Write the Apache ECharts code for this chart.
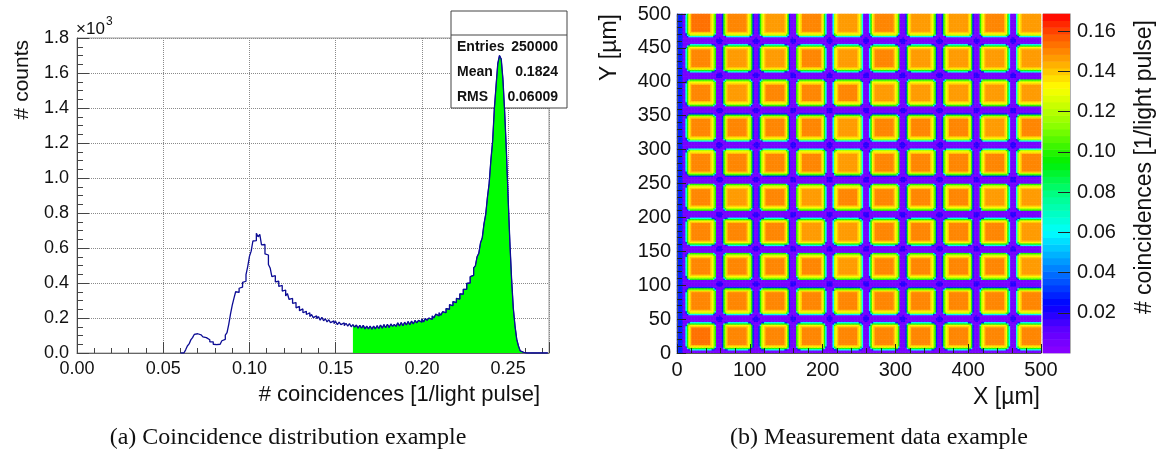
<!DOCTYPE html>
<html>
<head>
<meta charset="utf-8">
<script src="https://cdn.jsdelivr.net/npm/echarts@6/dist/echarts.min.js"></script>
<style>
  html, body { margin: 0; padding: 0; background: #ffffff; }
  #chart { width: 1165px; height: 450px; }
</style>
</head>
<body>
<div id="chart"></div>
<script>
// ---------- (a) coincidence distribution ----------
// histogram bins: left edge of first bin and bin width (1/light pulse)
const binStart = 0.060;
const binWidth = 0.001;
// entries per bin, from 0.060 upward
const counts = [
  0, 0, 6, 18, 40, 52, 75, 88, 106, 110,
  120, 104, 102, 92, 88, 78, 76, 64, 64, 50,
  48, 42, 50, 54, 70, 78, 102, 116, 164, 222,
  272, 312, 350, 346, 370, 376, 404, 410, 448, 494,
  552, 582, 640, 642, 684, 664, 678, 618, 620, 566,
  560, 506, 486, 436, 442, 406, 410, 380, 386, 354,
  360, 326, 340, 306, 312, 284, 288, 258, 266, 242,
  252, 230, 238, 220, 230, 208, 220, 202, 212, 196,
  208, 188, 204, 184, 196, 178, 190, 174, 184, 168,
  180, 162, 176, 162, 172, 156, 170, 154, 168, 150,
  162, 148, 160, 142, 158, 142, 158, 138, 154, 138,
  154, 136, 154, 138, 156, 140, 160, 142, 162, 144,
  164, 146, 166, 152, 164, 152, 172, 154, 174, 156,
  176, 160, 180, 162, 182, 166, 186, 172, 186, 176,
  194, 178, 198, 186, 200, 192, 212, 200, 222, 212,
  230, 216, 236, 230, 254, 250, 276, 270, 294, 288,
  312, 308, 338, 336, 364, 364, 398, 400, 436, 444,
  486, 498, 550, 570, 630, 658, 738, 792, 890, 970,
  1102, 1208, 1394, 1526, 1654, 1700, 1680, 1562, 1376, 1152,
  884, 636, 424, 256, 154, 78, 40, 12, 4, 0,
  0, 0, 0, 0, 0, 0, 0, 0, 0, 0, 0, 0, 0
];
const fillFrom = 0.160;         // shaded selection starts here
const histXMax = 0.2737;
const histYMax = 1800;
const statsRows = [
  ['Entries', '250000'],
  ['Mean', '0.1824'],
  ['RMS', '0.06009']
];

// ---------- (b) measurement map ----------
const mapSize = 500;            // µm
const cellSize = 2;             // µm per map bin
const padLeft = [13, 63.4, 113.8, 164.2, 214.6, 265, 315.4, 365.8, 416.2, 466.6];
const padBottom = [5, 56.5, 108, 159, 210, 261.5, 312.5, 364, 415, 466.5];
const padWidth = 41, padHeight = 40, padCorner = 6;
// plateau level of each pad, rows listed from top to bottom
const padLevel = [
  [0.153, 0.149, 0.148, 0.149, 0.148, 0.149, 0.148, 0.148, 0.149, 0.148],
  [0.150, 0.148, 0.148, 0.149, 0.147, 0.149, 0.148, 0.148, 0.148, 0.147],
  [0.149, 0.148, 0.149, 0.150, 0.149, 0.148, 0.147, 0.148, 0.148, 0.147],
  [0.150, 0.149, 0.150, 0.150, 0.148, 0.149, 0.150, 0.149, 0.148, 0.149],
  [0.151, 0.149, 0.150, 0.149, 0.148, 0.150, 0.151, 0.150, 0.150, 0.149],
  [0.150, 0.148, 0.149, 0.148, 0.149, 0.150, 0.149, 0.149, 0.148, 0.148],
  [0.150, 0.149, 0.149, 0.148, 0.148, 0.149, 0.150, 0.149, 0.149, 0.148],
  [0.151, 0.150, 0.149, 0.149, 0.148, 0.150, 0.149, 0.150, 0.149, 0.148],
  [0.151, 0.149, 0.150, 0.149, 0.150, 0.150, 0.150, 0.149, 0.150, 0.149],
  [0.152, 0.150, 0.150, 0.150, 0.149, 0.150, 0.150, 0.150, 0.150, 0.149]
];
// level versus depth inside a pad edge (µm)
const edgeProfile = [[0.8, 0.062], [2.2, 0.098], [3.6, 0.120], [5.5, 0.133], [7.5, 0.141]];
const outlineWidth = 1.0, outlineLevel = 0.030;
const stripWidth = 9, stripLevel = 0.030;
const crossingRadius = 4.5, crossingLevel = 0.018;
const backgroundLevel = 0.005;
const zMax = 0.1685;
const colorBands = 50;
const colorStops = [
  [0.000, '#8c00ff'], [0.012, '#5a00ff'], [0.024, '#0000ff'], [0.042, '#0082ff'],
  [0.060, '#00ffff'], [0.078, '#00ff8c'], [0.095, '#00f000'], [0.113, '#8cff00'],
  [0.132, '#ffff00'], [0.145, '#ffa500'], [0.157, '#ff5a00'], [0.1685, '#ff0000']
];

// ---------- build histogram series ----------
const edge = i => +(binStart + i * binWidth).toFixed(4);
const histPts = counts.map((c, i) => [edge(i), c]);
histPts.push([edge(counts.length), counts[counts.length - 1]]);
const fillPts = histPts.filter(p => p[0] >= fillFrom - 1e-9);

// ---------- build map cells ----------
function roundBoxDist(px, py, x0, y0, w, h, r) {
  const qx = Math.abs(px - (x0 + w / 2)) - (w / 2 - r);
  const qy = Math.abs(py - (y0 + h / 2)) - (h / 2 - r);
  return Math.hypot(Math.max(qx, 0), Math.max(qy, 0)) + Math.min(Math.max(qx, qy), 0) - r;
}
function nearestIndex(list, size, v) {
  let best = 0, bd = Infinity;
  list.forEach((s, i) => { const d = Math.abs(v - (s + size / 2)); if (d < bd) { bd = d; best = i; } });
  return best;
}
const gapX = padLeft.slice(0, -1).map((s, i) => (s + padWidth + padLeft[i + 1]) / 2);
const gapY = padBottom.slice(0, -1).map((s, i) => (s + padHeight + padBottom[i + 1]) / 2);
const nCells = Math.round(mapSize / cellSize);
const cellCats = Array.from({ length: nCells }, (_, i) => String(i));
const mapCells = [];
for (let ix = 0; ix < nCells; ix++) {
  const px = (ix + 0.5) * cellSize;
  const col = nearestIndex(padLeft, padWidth, px);
  for (let iy = 0; iy < nCells; iy++) {
    const py = (iy + 0.5) * cellSize;
    const row = nearestIndex(padBottom, padHeight, py);
    const sd = roundBoxDist(px, py, padLeft[col], padBottom[row], padWidth, padHeight, padCorner);
    let v;
    if (sd <= 0) {
      const depth = -sd;
      const step = edgeProfile.find(e => depth < e[0]);
      v = step ? step[1] : padLevel[padBottom.length - 1 - row][col];
    } else if (sd < outlineWidth) {
      v = outlineLevel;
    } else if (px < stripWidth) {
      v = stripLevel;
    } else {
      let dmin = Infinity;
      gapX.forEach(gx => gapY.forEach(gy => { dmin = Math.min(dmin, Math.hypot(px - gx, py - gy)); }));
      v = dmin < crossingRadius ? crossingLevel : backgroundLevel;
    }
    mapCells.push([ix, iy, v]);
  }
}

// ---------- palette ----------
function hexRgb(h) { return [1, 3, 5].map(k => parseInt(h.slice(k, k + 2), 16)); }
function paletteAt(v) {
  for (let i = 0; i < colorStops.length - 1; i++) {
    const [a, ca] = colorStops[i], [b, cb] = colorStops[i + 1];
    if (v <= b) {
      const t = Math.max(0, (v - a) / (b - a));
      const A = hexRgb(ca), B = hexRgb(cb);
      return 'rgb(' + A.map((x, k) => Math.round(x + (B[k] - x) * t)).join(',') + ')';
    }
  }
  return colorStops[colorStops.length - 1][1];
}
const bandStep = zMax / colorBands;
const pieces = [];
const bandCats = [];
const bandCells = [];
for (let k = 0; k < colorBands; k++) {
  const lo = k * bandStep, hi = (k + 1) * bandStep;
  pieces.push({ gte: k === 0 ? -1 : lo, lt: k === colorBands - 1 ? 1 : hi, color: paletteAt((lo + hi) / 2) });
  bandCats.push(String(k));
  bandCells.push([0, k, (lo + hi) / 2]);
}

// ---------- chart ----------
const SANS = '"Liberation Sans", Arial, sans-serif';
const SERIF = '"Liberation Serif", "DejaVu Serif", serif';
const INK = '#111111';
const chart = echarts.init(document.getElementById('chart'), null, { renderer: 'canvas' });

const statsGraphics = [
  { type: 'rect', z: 1, shape: { x: 451, y: 11, width: 116, height: 97 },
    style: { fill: '#ffffff', stroke: '#444444', lineWidth: 1 } },
  { type: 'line', z: 1, shape: { x1: 451, y1: 35, x2: 567, y2: 35 },
    style: { stroke: '#444444', lineWidth: 1 } }
];
statsRows.forEach((r, i) => {
  const y = 47.5 + i * 24.6;
  statsGraphics.push({ type: 'text', z: 1, x: 457, y: y,
    style: { text: r[0], font: 'bold 14px ' + SANS, fill: INK, align: 'left', verticalAlign: 'middle' } });
  statsGraphics.push({ type: 'text', z: 1, x: 558, y: y,
    style: { text: r[1], font: 'bold 14px ' + SANS, fill: INK, align: 'right', verticalAlign: 'middle' } });
});

const textEl = (x, y, text, font, align, rot) => ({
  type: 'text', z: 10, x: x, y: y, rotation: rot || 0,
  style: { text: text, font: font, fill: INK, align: align, verticalAlign: 'middle' }
});

const option = {
  animation: false,
  backgroundColor: '#ffffff',
  textStyle: { fontFamily: SANS },
  grid: [
    { left: 77, top: 38, width: 472, height: 315, show: true, borderColor: '#9a9a9a', borderWidth: 1,
      backgroundColor: 'transparent', containLabel: false, outerBoundsMode: 'none' },
    { left: 677, top: 14, width: 364, height: 339, show: false, containLabel: false, outerBoundsMode: 'none' },
    { left: 1043, top: 14, width: 27, height: 339, show: true, borderColor: '#b0b0b0', borderWidth: 1,
      backgroundColor: 'transparent', containLabel: false, outerBoundsMode: 'none' }
  ],
  xAxis: [
    { gridIndex: 0, type: 'value', min: 0, max: histXMax, interval: 0.05,
      axisLine: { show: true, onZero: false, lineStyle: { color: '#666', width: 1 } },
      axisTick: { show: true, inside: true, length: 11, lineStyle: { color: '#444' } },
      minorTick: { show: true, splitNumber: 5, length: 5, lineStyle: { color: '#444' } },
      splitLine: { show: true, lineStyle: { type: 'dotted', color: '#8a8a8a', width: 1 } },
      axisLabel: { formatter: v => v.toFixed(2), fontSize: 18, color: INK, margin: 7,
        showMaxLabel: false, fontFamily: SANS } },
    { gridIndex: 1, type: 'category', data: cellCats, show: false, position: 'top' },
    { gridIndex: 1, type: 'value', min: 0, max: mapSize, interval: 100, position: 'bottom', z: 5,
      axisLine: { show: true, onZero: false, lineStyle: { color: '#555', width: 1 } },
      axisTick: { show: true, inside: true, length: 9, lineStyle: { color: '#222' } },
      minorTick: { show: true, splitNumber: 5, length: 5, lineStyle: { color: '#222' } },
      splitLine: { show: false },
      axisLabel: { fontSize: 20, color: INK, margin: 7, fontFamily: SANS } },
    { gridIndex: 2, type: 'category', data: [''], show: false }
  ],
  yAxis: [
    { gridIndex: 0, type: 'value', min: 0, max: histYMax, interval: 200,
      axisLine: { show: true, onZero: false, lineStyle: { color: '#444', width: 1 } },
      axisTick: { show: true, inside: true, length: 12, lineStyle: { color: '#444' } },
      minorTick: { show: true, splitNumber: 4, length: 6, lineStyle: { color: '#444' } },
      splitLine: { show: true, lineStyle: { type: 'dotted', color: '#8a8a8a', width: 1 } },
      axisLabel: { formatter: v => (v / 1000).toFixed(1), fontSize: 18, color: INK, margin: 8, fontFamily: SANS } },
    { gridIndex: 1, type: 'category', data: cellCats, show: false, position: 'right' },
    { gridIndex: 1, type: 'value', min: 0, max: mapSize, interval: 50, position: 'left', z: 5,
      axisLine: { show: true, onZero: false, lineStyle: { color: '#555', width: 1 } },
      axisTick: { show: true, inside: true, length: 9, lineStyle: { color: '#222' } },
      minorTick: { show: true, splitNumber: 5, length: 5, lineStyle: { color: '#222' } },
      splitLine: { show: false },
      axisLabel: { fontSize: 20, color: INK, margin: 6, fontFamily: SANS } },
    { gridIndex: 2, type: 'category', data: bandCats, show: false, position: 'left' },
    { gridIndex: 2, type: 'value', min: 0, max: zMax, interval: 0.02, position: 'right', z: 5,
      axisLine: { show: true, onZero: false, lineStyle: { color: '#b0b0b0', width: 1 } },
      axisTick: { show: true, inside: true, length: 12, lineStyle: { color: '#222' } },
      splitLine: { show: false },
      axisLabel: { formatter: v => v.toFixed(2), fontSize: 20, color: INK, margin: 7,
        showMinLabel: false, showMaxLabel: false, fontFamily: SANS } }
  ],
  visualMap: {
    type: 'piecewise', show: false, seriesIndex: [2, 3], dimension: 2, pieces: pieces
  },
  series: [
    { type: 'line', xAxisIndex: 0, yAxisIndex: 0, data: fillPts, step: 'end', symbol: 'none',
      lineStyle: { width: 1, color: '#1a1aa0' }, areaStyle: { color: '#00ff00', opacity: 1 },
      z: 2, silent: true },
    { type: 'line', xAxisIndex: 0, yAxisIndex: 0, data: histPts, step: 'end', symbol: 'none',
      lineStyle: { width: 1.3, color: '#0c0c94' }, z: 3, silent: true },
    { type: 'heatmap', xAxisIndex: 1, yAxisIndex: 1, data: mapCells, progressive: 0,
      itemStyle: { borderWidth: 0 }, emphasis: { disabled: true }, silent: true },
    { type: 'heatmap', xAxisIndex: 3, yAxisIndex: 3, data: bandCells, progressive: 0,
      itemStyle: { borderWidth: 0 }, emphasis: { disabled: true }, silent: true }
  ],
  graphic: statsGraphics.concat([
    textEl(76, 29, '×10', '17px ' + SANS, 'left'),
    textEl(106, 22, '3', '12px ' + SANS, 'left'),
    textEl(22, 40, '# counts', '21px ' + SANS, 'right', Math.PI / 2),
    textEl(540, 395, '# coincidences [1/light pulse]', '22px ' + SANS, 'right'),
    textEl(288, 438, '(a) Coincidence distribution example', '24px ' + SERIF, 'center'),
    textEl(610, 14, 'Y [µm]', '23px ' + SANS, 'right', Math.PI / 2),
    textEl(1040, 398, 'X [µm]', '23px ' + SANS, 'right'),
    textEl(1145, 20, '# coincidences [1/light pulse]', '23px ' + SANS, 'right', Math.PI / 2),
    textEl(879, 438, '(b) Measurement data example', '24px ' + SERIF, 'center')
  ])
};
chart.setOption(option);
</script>
</body>
</html>
